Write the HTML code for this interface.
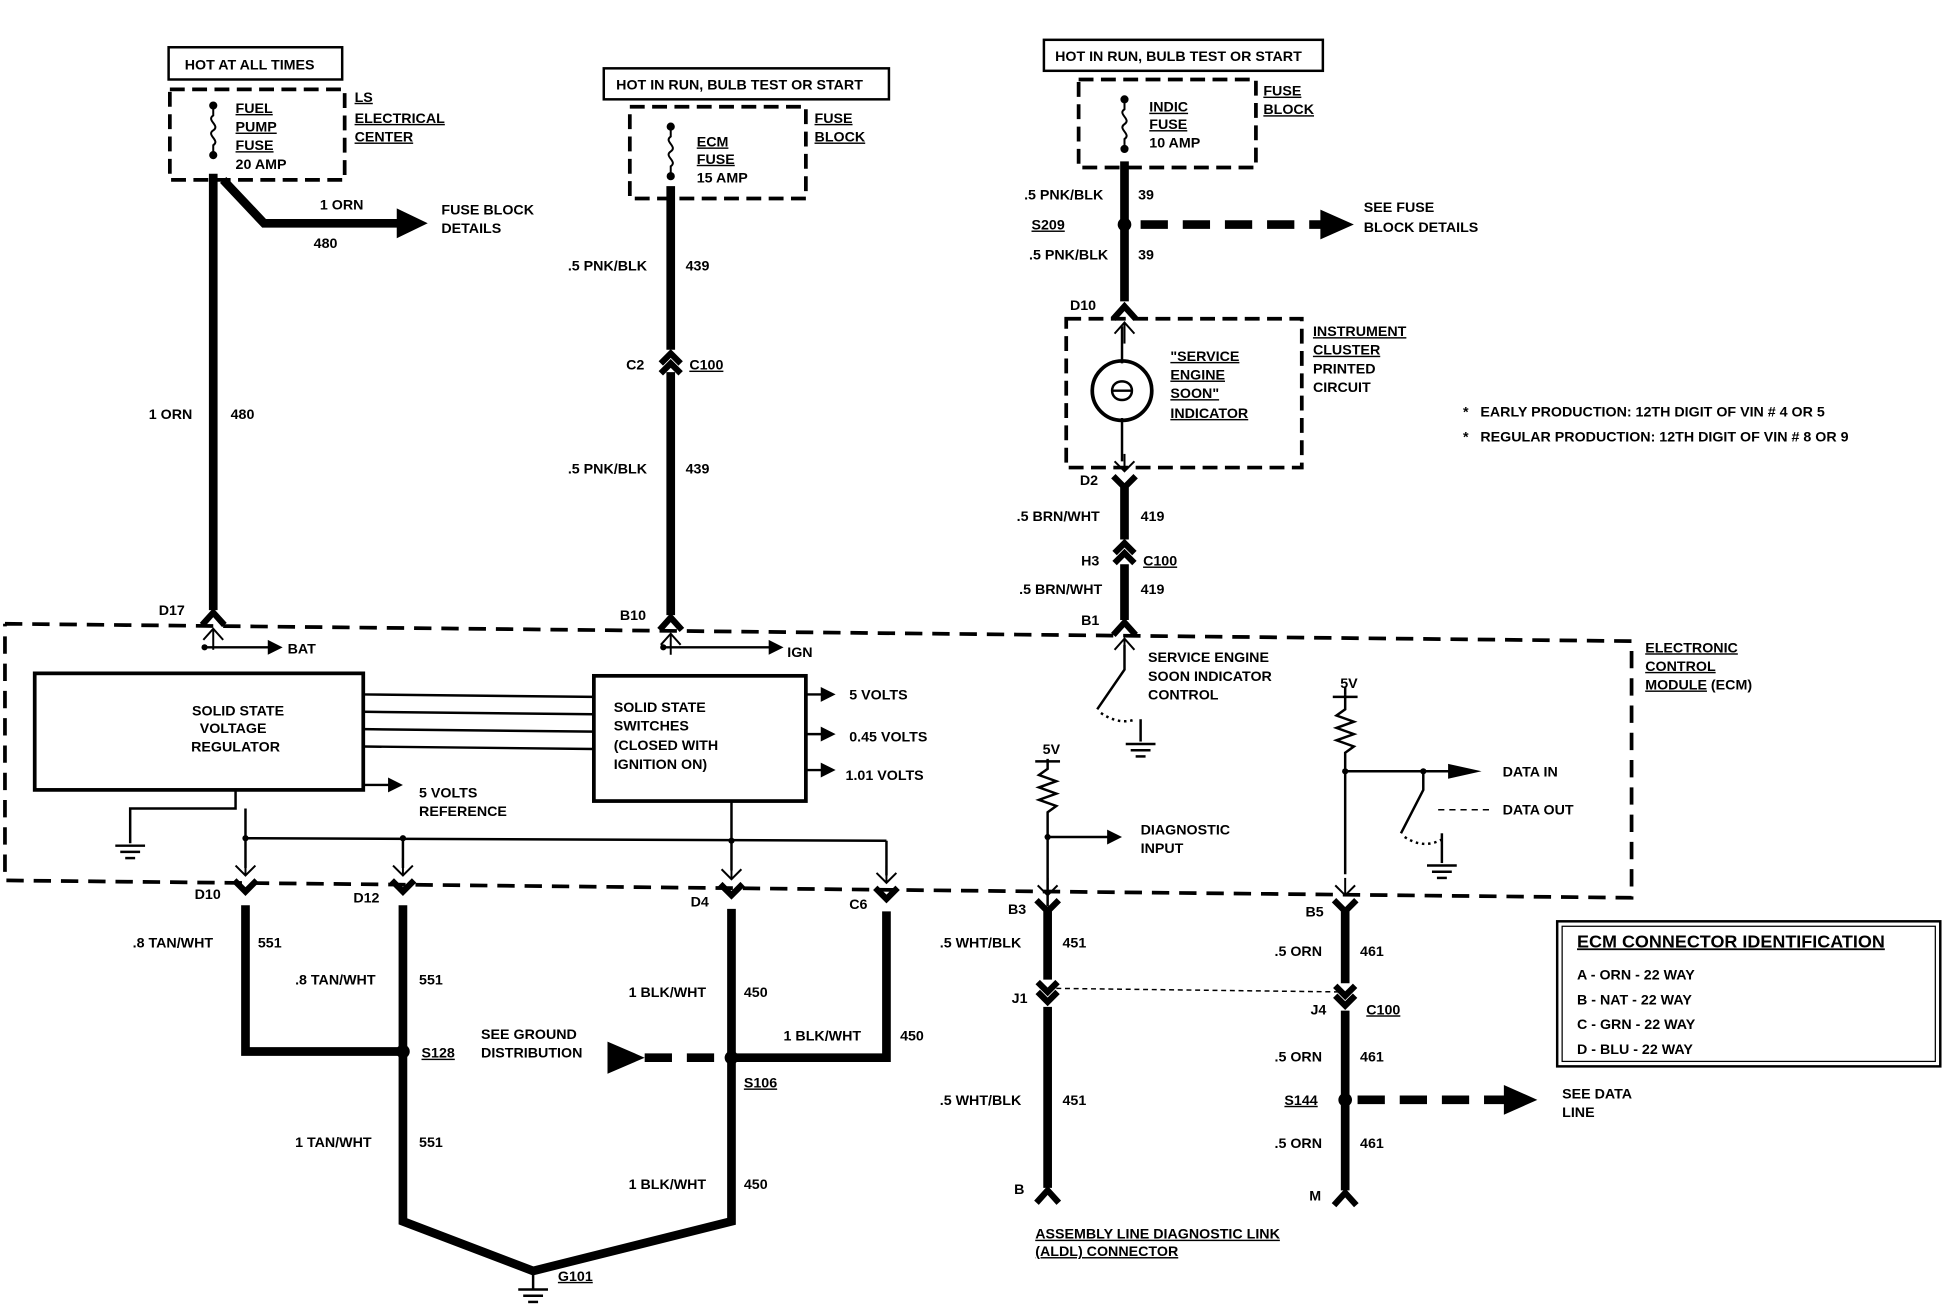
<!DOCTYPE html>
<html><head><meta charset="utf-8"><style>
html,body{margin:0;padding:0;background:#fff}
svg{display:block}
text{font-family:"Liberation Sans",sans-serif;font-weight:bold;font-size:11.5px;fill:#000}
.u{text-decoration:underline}
</style></head><body>
<svg width="1944" height="1312" viewBox="0 0 1568 1058" xmlns="http://www.w3.org/2000/svg">
<defs>
<g id="cu"><polyline points="-9,10 0,0 9,10" fill="none" stroke="#000" stroke-width="5"/><polyline points="-8,22 0,13 8,22" fill="none" stroke="#000" stroke-width="1.6"/><line x1="0" y1="13" x2="0" y2="30" stroke="#000" stroke-width="1.6"/></g>
<g id="cd"><line x1="0" y1="-14" x2="0" y2="0" stroke="#000" stroke-width="1.6"/><polyline points="-8,-8 0,0 8,-8" fill="none" stroke="#000" stroke-width="1.6"/><polyline points="-9,4 0,13 9,4" fill="none" stroke="#000" stroke-width="5"/></g>
<g id="cc"><polyline points="-8,6 0,-2 8,6" fill="none" stroke="#000" stroke-width="5"/><polyline points="-8,14 0,6 8,14" fill="none" stroke="#000" stroke-width="5"/></g>
<g id="gnd" stroke="#000" stroke-width="2"><line x1="-12" y1="0" x2="12" y2="0"/><line x1="-8" y1="5" x2="8" y2="5"/><line x1="-4" y1="10" x2="4" y2="10"/></g>
<g id="fuse" fill="none" stroke="#000" stroke-width="1.6"><circle cx="0" cy="0" r="2.5" fill="#000"/><path d="M0,0 v8 c-6,4 6,8 0,12 c-6,4 6,8 0,12 v8"/><circle cx="0" cy="40" r="2.5" fill="#000"/></g>
</defs>
<g fill="none" stroke="#000">
<!-- top boxes -->
<rect x="136" y="38" width="140" height="26" stroke-width="2"/>
<rect x="137" y="72" width="141" height="73" stroke-width="3" stroke-dasharray="12,6"/>
<rect x="487" y="55" width="230" height="25" stroke-width="2"/>
<rect x="508" y="86" width="142" height="74" stroke-width="3" stroke-dasharray="12,6"/>
<rect x="842" y="32" width="225" height="25" stroke-width="2"/>
<rect x="870" y="64" width="143" height="71" stroke-width="3" stroke-dasharray="12,6"/>
<rect x="860" y="257" width="190" height="120" stroke-width="3" stroke-dasharray="12,6"/>
<!-- ECM dashed -->
<polyline points="4,503 1316,517 1316,724 4,710 4,503" stroke-width="3" stroke-dasharray="14,8"/>
<!-- wires -->
<g stroke-width="7">
<line x1="172" y1="140" x2="172" y2="492"/>
<polyline points="180,145 213,180 322,180"/>
<line x1="541" y1="150" x2="541" y2="282"/>
<line x1="541" y1="300" x2="541" y2="496"/>
<line x1="907" y1="130" x2="907" y2="243"/>
<line x1="907" y1="393" x2="907" y2="435"/>
<line x1="907" y1="455" x2="907" y2="500"/>
<polyline points="198,730 198,848 325,848"/>
<polyline points="325,730 325,985 430,1025 590,985 590,733"/>
<polyline points="715,735 715,853 590,853"/>
<line x1="845" y1="735" x2="845" y2="790"/>
<line x1="845" y1="812" x2="845" y2="958"/>
<line x1="1085" y1="735" x2="1085" y2="793"/>
<line x1="1085" y1="815" x2="1085" y2="960"/>
</g>
<g stroke-width="7" stroke-dasharray="22,12">
<line x1="920" y1="181" x2="1068" y2="181"/>
<line x1="520" y1="853" x2="582" y2="853"/>
<line x1="1095" y1="887" x2="1215" y2="887"/>
</g>
<line x1="430" y1="1025" x2="430" y2="1040" stroke-width="2"/>
<!-- boxes -->
<rect x="28" y="543" width="265" height="94" stroke-width="3"/>
<rect x="479" y="545" width="171" height="101" stroke-width="3"/>
<g stroke-width="2">
<line x1="293" y1="560" x2="479" y2="562"/><line x1="293" y1="574" x2="479" y2="576"/><line x1="293" y1="588" x2="479" y2="590"/><line x1="293" y1="602" x2="479" y2="604"/>
<polyline points="165,520 165,522 218,522"/>
<line x1="535" y1="522" x2="622" y2="522"/>
<line x1="650" y1="560" x2="665" y2="560"/><line x1="650" y1="592" x2="665" y2="592"/><line x1="650" y1="621" x2="665" y2="621"/>
<line x1="293" y1="633" x2="315" y2="633"/>
<polyline points="190,637 190,652 105,652 105,680"/>
<line x1="198" y1="652" x2="198" y2="700"/>
<line x1="198" y1="676" x2="715" y2="678"/>
<line x1="325" y1="676" x2="325" y2="700"/>
<line x1="590" y1="646" x2="590" y2="702"/>
<line x1="715" y1="678" x2="715" y2="706"/>
<!-- SES control -->
<polyline points="907,520 907,540 885,572"/>
<path d="M888,575 q15,10 28,5" stroke-dasharray="2,3"/>
<line x1="920" y1="580" x2="920" y2="598"/>
<!-- diag -->
<path d="M845,612 v8 l-7,5 l14,5 l-14,5 l14,5 l-14,5 l14,5 l-7,5 v76"/>
<line x1="845" y1="675" x2="895" y2="675"/>
<path d="M1085,560 v12 l-7,5 l14,5 l-14,5 l14,5 l-14,5 l14,5 l-7,5 v98"/>
<line x1="1085" y1="622" x2="1170" y2="622"/>
<polyline points="1148,622 1148,637 1130,672"/>
<path d="M1133,675 q15,10 30,2" stroke-dasharray="2,3"/>
<line x1="1163" y1="672" x2="1163" y2="696"/>
<line x1="1160" y1="653" x2="1205" y2="653" stroke-dasharray="5,4" stroke-width="1.2"/>
<line x1="845" y1="797" x2="1085" y2="800" stroke-dasharray="4,3" stroke-width="1.2"/>
<circle cx="905" cy="315" r="24" stroke-width="3"/>
<path d="M905,293 v-30 M905,337 v35" />
<path d="M897,315 c0,-10 16,-10 16,0 c0,10 -16,10 -16,0 M898,315 h14"/>
<line x1="81" y1="581" x2="81" y2="581"/>
</g>
<rect x="1256" y="743" width="309" height="117" stroke-width="2"/>
<rect x="1260" y="747" width="301" height="109" stroke-width="1"/>
</g>
<!-- arrowheads -->
<g fill="#000">
<polygon points="320,168 345,180 320,192"/><polygon points="1065,169 1092,181 1065,193"/>
<polygon points="1213,875 1240,887 1213,899"/><polygon points="490,840 520,853 490,866"/>
<polygon points="216,516 228,522 216,528"/><polygon points="620,516 632,522 620,528"/>
<polygon points="662,554 674,560 662,566"/><polygon points="662,586 674,592 662,598"/><polygon points="662,615 674,621 662,627"/>
<polygon points="313,627 325,633 313,639"/><polygon points="893,669 905,675 893,681"/>
<polygon points="1168,616 1195,622 1168,628"/>
<circle cx="907" cy="181" r="5.5"/><circle cx="325" cy="848" r="5.5"/><circle cx="590" cy="853" r="5.5"/><circle cx="1085" cy="887" r="5.5"/>
<circle cx="165" cy="522" r="2.5"/><circle cx="535" cy="522" r="2.5"/><circle cx="198" cy="676" r="2.5"/><circle cx="325" cy="676" r="2.5"/><circle cx="590" cy="678" r="2.5"/><circle cx="845" cy="675" r="2.5"/><circle cx="1085" cy="622" r="2.5"/><circle cx="1148" cy="622" r="2.5"/>
</g>
<use href="#fuse" x="172" y="85"/><use href="#fuse" x="541" y="102"/><use href="#fuse" x="907" y="80"/>
<use href="#cu" x="172" y="494"/><use href="#cu" x="541" y="498"/><use href="#cu" x="907" y="502"/>
<use href="#cu" x="907" y="247"/><use href="#cd" x="907" y="380"/>
<use href="#cd" x="198" y="706"/><use href="#cd" x="325" y="706"/><use href="#cd" x="590" y="709"/><use href="#cd" x="715" y="712"/>
<use href="#cd" x="845" y="722"/><use href="#cd" x="1085" y="722"/>
<use href="#cc" x="541" y="287"/><use href="#cc" x="907" y="440"/>
<g fill="none" stroke="#000" stroke-width="5"><polyline points="837,792 845,800 853,792"/><polyline points="837,800 845,808 853,800"/><polyline points="1077,795 1085,803 1093,795"/><polyline points="1077,803 1085,811 1093,803"/>
<polyline points="836,970 845,960 854,970"/><polyline points="1076,972 1085,962 1094,972"/></g>
<use href="#gnd" x="105" y="682"/><use href="#gnd" x="920" y="600"/><use href="#gnd" x="1163" y="698"/><use href="#gnd" x="430" y="1040"/>
<line x1="1085" y1="554" x2="1085" y2="560" stroke="#000" stroke-width="2"/>
<line x1="1075" y1="562" x2="1095" y2="562" stroke="#000" stroke-width="2"/>
<line x1="835" y1="614" x2="855" y2="614" stroke="#000" stroke-width="2"/>
<!-- text -->
<text x="149" y="56">HOT AT ALL TIMES</text>
<text x="190" y="91" class="u">FUEL</text><text x="190" y="106" class="u">PUMP</text><text x="190" y="121" class="u">FUSE</text><text x="190" y="136">20 AMP</text>
<text x="286" y="82" class="u">LS</text><text x="286" y="99" class="u">ELECTRICAL</text><text x="286" y="114" class="u">CENTER</text>
<text x="258" y="169">1 ORN</text><text x="253" y="200">480</text>
<text x="356" y="173">FUSE BLOCK</text><text x="356" y="188">DETAILS</text>
<text x="120" y="338">1 ORN</text><text x="186" y="338">480</text>
<text x="128" y="496">D17</text>
<text x="497" y="72">HOT IN RUN, BULB TEST OR START</text>
<text x="562" y="118" class="u">ECM</text><text x="562" y="132" class="u">FUSE</text><text x="562" y="147">15 AMP</text>
<text x="657" y="99" class="u">FUSE</text><text x="657" y="114" class="u">BLOCK</text>
<text x="458" y="218">.5 PNK/BLK</text><text x="553" y="218">439</text>
<text x="505" y="298">C2</text><text x="556" y="298" class="u">C100</text>
<text x="458" y="382">.5 PNK/BLK</text><text x="553" y="382">439</text>
<text x="500" y="500">B10</text>
<text x="851" y="49">HOT IN RUN, BULB TEST OR START</text>
<text x="927" y="90" class="u">INDIC</text><text x="927" y="104" class="u">FUSE</text><text x="927" y="119">10 AMP</text>
<text x="1019" y="77" class="u">FUSE</text><text x="1019" y="92" class="u">BLOCK</text>
<text x="826" y="161">.5 PNK/BLK</text><text x="918" y="161">39</text>
<text x="832" y="185" class="u">S209</text>
<text x="1100" y="171">SEE FUSE</text><text x="1100" y="187">BLOCK DETAILS</text>
<text x="830" y="209">.5 PNK/BLK</text><text x="918" y="209">39</text>
<text x="863" y="250">D10</text>
<text x="944" y="291" class="u">"SERVICE</text><text x="944" y="306" class="u">ENGINE</text><text x="944" y="321" class="u">SOON"</text><text x="944" y="337" class="u">INDICATOR</text>
<text x="1059" y="271" class="u">INSTRUMENT</text><text x="1059" y="286" class="u">CLUSTER</text><text x="1059" y="301">PRINTED</text><text x="1059" y="316">CIRCUIT</text>
<text x="1180" y="336">*&#160;&#160;&#160;EARLY PRODUCTION: 12TH DIGIT OF VIN # 4 OR 5</text>
<text x="1180" y="356">*&#160;&#160;&#160;REGULAR PRODUCTION: 12TH DIGIT OF VIN # 8 OR 9</text>
<text x="871" y="391">D2</text>
<text x="820" y="420">.5 BRN/WHT</text><text x="920" y="420">419</text>
<text x="872" y="456">H3</text><text x="922" y="456" class="u">C100</text>
<text x="822" y="479">.5 BRN/WHT</text><text x="920" y="479">419</text>
<text x="872" y="504">B1</text>
<text x="1327" y="526" class="u">ELECTRONIC</text><text x="1327" y="541" class="u">CONTROL</text><text x="1327" y="556"><tspan class="u">MODULE</tspan> (ECM)</text>
<text x="232" y="527">BAT</text><text x="635" y="530">IGN</text>
<text x="192" y="577" text-anchor="middle">SOLID STATE</text><text x="188" y="591" text-anchor="middle">VOLTAGE</text><text x="190" y="606" text-anchor="middle">REGULATOR</text>
<text x="495" y="574">SOLID STATE</text><text x="495" y="589">SWITCHES</text><text x="495" y="605">(CLOSED WITH</text><text x="495" y="620">IGNITION ON)</text>
<text x="685" y="564">5 VOLTS</text><text x="685" y="598">0.45 VOLTS</text><text x="682" y="629">1.01 VOLTS</text>
<text x="338" y="643">5 VOLTS</text><text x="338" y="658">REFERENCE</text>
<text x="926" y="534">SERVICE ENGINE</text><text x="926" y="549">SOON INDICATOR</text><text x="926" y="564">CONTROL</text>
<text x="841" y="608">5V</text><text x="1081" y="555">5V</text>
<text x="920" y="673">DIAGNOSTIC</text><text x="920" y="688">INPUT</text>
<text x="1212" y="626">DATA IN</text><text x="1212" y="657">DATA OUT</text>
<text x="157" y="725">D10</text><text x="285" y="728">D12</text><text x="557" y="731">D4</text><text x="685" y="733">C6</text>
<text x="813" y="737">B3</text><text x="1053" y="739">B5</text>
<text x="107" y="764">.8 TAN/WHT</text><text x="208" y="764">551</text>
<text x="238" y="794">.8 TAN/WHT</text><text x="338" y="794">551</text>
<text x="507" y="804">1 BLK/WHT</text><text x="600" y="804">450</text>
<text x="632" y="839">1 BLK/WHT</text><text x="726" y="839">450</text>
<text x="388" y="838">SEE GROUND</text><text x="388" y="853">DISTRIBUTION</text>
<text x="340" y="853" class="u">S128</text><text x="600" y="877" class="u">S106</text>
<text x="238" y="925">1 TAN/WHT</text><text x="338" y="925">551</text>
<text x="507" y="959">1 BLK/WHT</text><text x="600" y="959">450</text>
<text x="450" y="1033" class="u">G101</text>
<text x="758" y="764">.5 WHT/BLK</text><text x="857" y="764">451</text>
<text x="816" y="809">J1</text>
<text x="758" y="891">.5 WHT/BLK</text><text x="857" y="891">451</text>
<text x="818" y="963">B</text>
<text x="835" y="999" class="u">ASSEMBLY LINE DIAGNOSTIC LINK</text><text x="835" y="1013" class="u">(ALDL) CONNECTOR</text>
<text x="1028" y="771">.5 ORN</text><text x="1097" y="771">461</text>
<text x="1057" y="818">J4</text><text x="1102" y="818" class="u">C100</text>
<text x="1028" y="856">.5 ORN</text><text x="1097" y="856">461</text>
<text x="1036" y="891" class="u">S144</text>
<text x="1260" y="886">SEE DATA</text><text x="1260" y="901">LINE</text>
<text x="1028" y="926">.5 ORN</text><text x="1097" y="926">461</text>
<text x="1056" y="968">M</text>
<text x="1272" y="764" style="font-size:14.5px" class="u">ECM CONNECTOR IDENTIFICATION</text>
<text x="1272" y="790">A - ORN - 22 WAY</text><text x="1272" y="810">B - NAT - 22 WAY</text><text x="1272" y="830">C - GRN - 22 WAY</text><text x="1272" y="850">D - BLU - 22 WAY</text>
</svg>
</body></html>
